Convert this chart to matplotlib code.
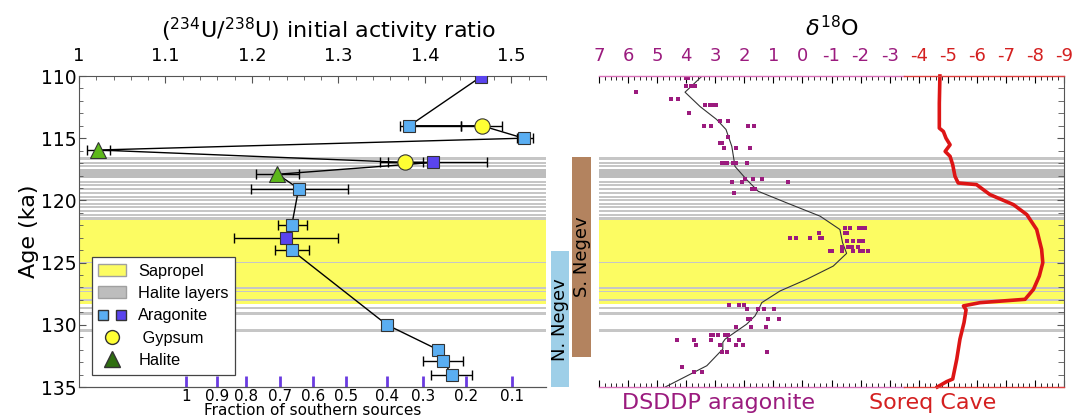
"""
Uranium activity ratio vs age (left) and d18O records (right)
with sapropel / halite layer bands and Negev source bars.
"""

import numpy as np
import pandas as pd
import matplotlib
matplotlib.use("Agg")
import matplotlib.pyplot as plt
from matplotlib.patches import Patch
from matplotlib.lines import Line2D
from matplotlib.legend_handler import HandlerTuple
from matplotlib.ticker import MultipleLocator, FuncFormatter

# ── data: left panel (234U/238U initial activity ratio) ─────────────────
ARAG_LIGHT_AGE   = [114.0, 115.0, 119.05, 122.0, 124.0, 130.0, 132.0, 132.9, 134.0]
ARAG_LIGHT_RATIO = [1.382, 1.514, 1.254, 1.246, 1.246, 1.356, 1.415, 1.421, 1.431]
ARAG_LIGHT_LO    = [1.371, 1.506, 1.199, 1.230, 1.227, 1.356, 1.415, 1.398, 1.4065]
ARAG_LIGHT_HI    = [1.442, 1.525, 1.311, 1.2635, 1.266, 1.356, 1.415, 1.4437, 1.455]

ARAG_DARK_AGE   = [110.05, 116.95, 123.0]
ARAG_DARK_RATIO = [1.465, 1.409, 1.239]
ARAG_DARK_LO    = [1.465, 1.357, 1.179]
ARAG_DARK_HI    = [1.465, 1.472, 1.299]

GYPSUM_AGE   = [114.0, 116.95]
GYPSUM_RATIO = [1.466, 1.3775]
GYPSUM_LO    = [1.442, 1.348]
GYPSUM_HI    = [1.489, 1.398]

HALITE_AGE   = [115.95, 117.9]
HALITE_RATIO = [1.022, 1.2295]
HALITE_LO    = [1.009, 1.2047]
HALITE_HI    = [1.036, 1.2544]

FRACTION_POS    = [1.124, 1.160, 1.193, 1.232, 1.271, 1.309, 1.356, 1.398, 1.448, 1.501]
FRACTION_LABELS = ["1", "0.9", "0.8", "0.7", "0.6", "0.5", "0.4", "0.3", "0.2", "0.1"]

# ── data: layers ────────────────────────────────────────────────────────
SAPROPEL = (121.55, 128.3)
HALITE_TOP = [116.52, 116.89, 117.13, 117.48, 118.42, 118.68, 119.0, 119.3, 119.62,
              119.88, 120.2, 120.47, 120.74, 121.06, 121.33, 124.98, 126.95, 127.25,
              127.95, 128.55, 128.95, 130.35]
HALITE_BOT = [116.73, 117.05, 117.32, 118.23, 118.6, 118.87, 119.19, 119.45, 119.8,
              120.07, 120.34, 120.63, 120.9, 121.22, 121.54, 125.05, 127.1, 127.4,
              128.1, 128.75, 129.2, 130.6]

NEGEV_NAMES = ["N. Negev", "S. Negev"]
NEGEV_START = [124.1, 116.5]
NEGEV_END   = [135.0, 132.6]

# ── data: right panel (d18O) ────────────────────────────────────────────
DSDDP_AGE = ([110.16] * 2 + [110.8] * 3 + [111.3] + [111.87] * 2 + [112.35] * 4 + [112.99]
             + [113.58] * 2 + [114.0] * 4 + [114.91] + [115.39] * 2 + [115.8] * 3
             + [117.0] * 6 + [118.3] * 3 + [118.55] * 3 + [119.08] * 2 + [119.38]
             + [122.23] * 5 + [122.66] * 3 + [123.06] * 5 + [123.28] * 4 + [123.74] * 4
             + [124.1] * 7 + [128.43] * 3 + [128.69] * 4 + [129.5] * 4 + [130.17] * 3
             + [130.83] * 5 + [131.23] * 5 + [131.63] * 4 + [132.2] * 3 + [133.4]
             + [133.83] * 2)
DSDDP_D18O = ([4.0, 3.95] + [4.0, 3.85, 3.70] + [5.73] + [4.51, 4.29] + [3.34, 3.17, 3.03, 2.96]
              + [3.91] + [2.84, 2.55] + [3.38, 3.15, 1.88, 1.67] + [2.57] + [2.84, 2.78]
              + [2.69, 2.30, 1.80] + [2.78, 2.66, 2.58, 2.40, 2.29, 1.90] + [1.97, 1.69, 1.40]
              + [2.42, 2.09, 0.49] + [1.74, 1.63] + [2.35]
              + [-1.48, -1.64, -1.95, -2.04, -2.15] + [-0.56, -1.48, -1.55]
              + [0.43, 0.23, -0.26, -0.61, -0.66] + [-1.52, -1.75, -1.95, -2.10]
              + [-1.35, -1.58, -1.70, -1.92] + [-0.95, -1.03, -1.37, -1.73, -1.98, -2.10, -2.27]
              + [2.52, 2.18, 2.0] + [1.9, 1.52, 1.31, 0.97] + [1.86, 1.80, 1.17, 0.80]
              + [2.29, 1.78, 1.24] + [3.15, 3.07, 2.90, 2.66, 2.55]
              + [4.32, 3.72, 3.15, 2.54, 2.17] + [3.67, 2.84, 2.29, 2.06]
              + [2.78, 2.61, 1.23] + [4.15] + [3.72, 3.47])

SMOOTH_AGE  = [110.0, 111.3, 112.46, 113.5, 114.3, 115.66, 117.27, 118.33, 119.27, 120.2,
               121.27, 122.34, 123.4, 124.26, 125.28, 126.35, 127.28, 128.22, 128.62,
               129.28, 129.95, 131.15, 131.42, 131.95, 133.29, 135.0]
SMOOTH_D18O = [3.45, 4.04, 3.52, 2.95, 2.63, 2.43, 2.32, 1.92, 1.52, 0.54,
               -0.61, -1.29, -1.38, -1.52, -1.06, -0.14, 0.77, 1.40, 1.48,
               1.63, 1.92, 2.66, 2.74, 2.74, 3.29, 4.72]

SOREQ_AGE  = [110.0, 112.19, 114.19, 114.46, 115.0, 115.53, 116.06, 116.46, 117.13, 118.07,
              118.6, 118.73, 119.53, 120.34, 121.14, 122.34, 123.94, 125.01, 126.08,
              127.15, 127.95, 128.22, 128.48, 128.8, 129.82, 131.15, 132.76, 134.36,
              134.57, 135.0]
SOREQ_D18O = [-4.73, -4.71, -4.71, -4.85, -4.94, -5.08, -4.91, -5.08, -5.17, -5.25,
              -5.36, -5.99, -6.45, -7.26, -7.72, -8.06, -8.23, -8.27, -8.15,
              -7.95, -7.66, -6.11, -5.54, -5.63, -5.56, -5.42, -5.31, -5.17,
              -4.96, -4.64]

# ── style ───────────────────────────────────────────────────────────────
plt.rcParams.update({"font.family": "DejaVu Sans"})

YELLOW   = "#FCFC62"
GRAY     = "#C6C6C6"
LBLUE    = "#5AAEF2"
DBLUE    = "#5A44EE"
GYP      = "#FFFF33"
HAL      = "#5DB81A"
PURPLE   = "#9B1B7E"
PINK     = "#D870B8"
RED      = "#D42020"
FRACCOL  = "#6A3BE0"
SPINE    = "#555555"

fig = plt.figure(figsize=(10.75, 4.19), dpi=100)
W, H = 1075, 419
ax  = fig.add_axes([79 / W, (H - 387) / H, 467 / W, 311 / H])
axn = fig.add_axes([549 / W, (H - 387) / H, 45 / W, 311 / H])
ax2 = fig.add_axes([599 / W, (H - 387) / H, 465 / W, 311 / H])


def draw_layers(a):
    a.axhspan(*SAPROPEL, color=YELLOW, lw=0, zorder=0)
    for t, b in zip(HALITE_TOP, HALITE_BOT):
        c = "#BDBDBD" if b - t > 0.5 else GRAY
        a.axhspan(t, b, color=c, lw=0, zorder=0.5)


# ── left panel ──────────────────────────────────────────────────────────
draw_layers(ax)

pts = pd.DataFrame({
    "age": ARAG_LIGHT_AGE + ARAG_DARK_AGE + GYPSUM_AGE + HALITE_AGE,
    "ratio": ARAG_LIGHT_RATIO + ARAG_DARK_RATIO + GYPSUM_RATIO + HALITE_RATIO,
}).sort_values(["age", "ratio"])
ax.plot(pts["ratio"], pts["age"], color="black", lw=1.0, zorder=2)

series = [
    (ARAG_LIGHT_AGE, ARAG_LIGHT_RATIO, ARAG_LIGHT_LO, ARAG_LIGHT_HI, "s", LBLUE, 9),
    (ARAG_DARK_AGE, ARAG_DARK_RATIO, ARAG_DARK_LO, ARAG_DARK_HI, "s", DBLUE, 9),
    (GYPSUM_AGE, GYPSUM_RATIO, GYPSUM_LO, GYPSUM_HI, "o", GYP, 11),
    (HALITE_AGE, HALITE_RATIO, HALITE_LO, HALITE_HI, "^", HAL, 11),
]
for age, r, lo, hi, mk, col, ms in series:
    r = np.array(r)
    xerr = [r - np.array(lo), np.array(hi) - r]
    ax.errorbar(r, age, xerr=xerr, fmt="none", ecolor="black", elinewidth=1.0,
                capsize=3.5, capthick=1.0, zorder=3)
    ax.plot(r, age, ls="none", marker=mk, ms=ms, mfc=col, mec="#333333",
            mew=0.8, zorder=4)

ax.set_xlim(1.0, 1.54)
ax.set_ylim(135, 110)
ax.xaxis.tick_top()
ax.xaxis.set_major_locator(MultipleLocator(0.1))
ax.xaxis.set_minor_locator(MultipleLocator(0.02))
ax.xaxis.set_major_formatter(FuncFormatter(lambda v, p: f"{v:g}"))
ax.yaxis.set_major_locator(MultipleLocator(5))
ax.yaxis.set_minor_locator(MultipleLocator(1))
ax.tick_params(axis="x", which="both", direction="in", colors=SPINE, labelcolor="black",
               labelsize=13, pad=8)
ax.tick_params(axis="x", which="major", length=5)
ax.tick_params(axis="x", which="minor", length=3)
ax.tick_params(axis="y", which="both", direction="in", colors=SPINE, labelcolor="black",
               labelsize=13.5, pad=2)
ax.tick_params(axis="y", which="major", length=5)
ax.tick_params(axis="y", which="minor", length=3)
ax.spines["right"].set_visible(False)
for sp in ("left", "top", "bottom"):
    ax.spines[sp].set_color(SPINE)
    ax.spines[sp].set_linewidth(0.8)
ax.set_ylabel("Age (ka)", fontsize=16)
ax.yaxis.set_label_coords(-0.085, 0.5)

sec = ax.secondary_xaxis("bottom")
sec.set_xticks(FRACTION_POS, labels=FRACTION_LABELS)
sec.tick_params(direction="in", length=8, width=2, color=FRACCOL, labelsize=11, pad=1.5)
sec.spines["bottom"].set_color(SPINE)
sec.set_xlabel("Fraction of southern sources", fontsize=11, labelpad=-1)

handles = [
    Patch(facecolor=YELLOW, edgecolor="#A0A0A0"),
    Patch(facecolor="#BDBDBD", edgecolor="#A0A0A0"),
    (Line2D([], [], ls="none", marker="s", ms=7.5, mfc=LBLUE, mec="#333333"),
     Line2D([], [], ls="none", marker="s", ms=7.5, mfc=DBLUE, mec="#333333")),
    Line2D([], [], ls="none", marker="o", ms=10, mfc=GYP, mec="#333333"),
    Line2D([], [], ls="none", marker="^", ms=11, mfc="#2F6E10", mec="#333333"),
]
labels = ["Sapropel", "Halite layers", "Aragonite", " Gypsum", "Halite"]
leg = ax.legend(handles, labels, loc="lower left", bbox_to_anchor=(0.027, 0.04),
                prop={"family": "Liberation Sans", "size": 11.8},
                frameon=True, fancybox=False, framealpha=1,
                edgecolor="#444444", handlelength=1.7, handletextpad=0.75,
                labelspacing=0.45, borderpad=0.4, borderaxespad=0,
                handler_map={tuple: HandlerTuple(ndivide=None, pad=0.4)})
leg.get_frame().set_linewidth(0.9)
leg.set_zorder(5)

# ── Negev bars ──────────────────────────────────────────────────────────
start = np.array(NEGEV_START)
end = np.array(NEGEV_END)
axn.bar(range(len(NEGEV_NAMES)), end - start, bottom=start, width=0.86,
        color=["#9ECFE8", "#B3835F"], lw=0)
for i, name in enumerate(NEGEV_NAMES):
    axn.text(i, (NEGEV_START[i] + NEGEV_END[i]) / 2, name, rotation=90,
             ha="center", va="center", fontsize=13)
axn.set_xlim(-0.51, 1.58)
axn.set_ylim(135, 110)
axn.axis("off")

# ── right panel ─────────────────────────────────────────────────────────
draw_layers(ax2)
ax2.plot(SOREQ_D18O, SOREQ_AGE, color="#DD1515", lw=2.6, zorder=3, clip_on=False)
ax2.plot(SMOOTH_D18O, SMOOTH_AGE, color="#333333", lw=0.8, zorder=3)
ax2.scatter(DSDDP_D18O, DSDDP_AGE, marker="s", s=12, color=PURPLE, lw=0, zorder=4)

ax2.set_xlim(7, -9)
ax2.set_ylim(135, 110)
ax2.xaxis.set_major_locator(MultipleLocator(1))
ax2.xaxis.set_minor_locator(MultipleLocator(0.2))
ax2.yaxis.set_major_locator(MultipleLocator(5))
ax2.yaxis.set_minor_locator(MultipleLocator(1))
ax2.tick_params(axis="x", which="both", direction="in", top=True, bottom=True,
                labeltop=True, labelbottom=False, labelsize=13, pad=8)
ax2.tick_params(axis="x", which="major", length=5)
ax2.tick_params(axis="x", which="minor", length=3)
ax2.tick_params(axis="y", which="both", direction="in", left=False, right=True,
                labelleft=False, labelright=False, colors=SPINE)
ax2.tick_params(axis="y", which="major", length=5)
ax2.tick_params(axis="y", which="minor", length=4)
ax2.xaxis.set_major_formatter(FuncFormatter(lambda v, p: f"{v:g}".replace("-0", "0")))

SPLIT = -3.5
fig.canvas.draw()
for tk in ax2.xaxis.get_major_ticks() + ax2.xaxis.get_minor_ticks():
    v = tk.get_loc()
    c = PINK if v > SPLIT else "#E04040"
    tk.tick1line.set_color(c)
    tk.tick2line.set_color(c)
    tk.label2.set_color(PURPLE if v > SPLIT else RED)

for sp in ("left", "top", "bottom"):
    ax2.spines[sp].set_visible(False)
ax2.spines["right"].set_color(SPINE)
ax2.spines["right"].set_linewidth(0.8)
frac = (7 - SPLIT) / 16
for yy in (110, 135):
    ax2.axhline(yy, xmin=0, xmax=frac, color=PINK, lw=1.0, clip_on=False, zorder=5)
    ax2.axhline(yy, xmin=frac, xmax=1, color="#E04040", lw=1.0, clip_on=False, zorder=5)

# ── titles and labels ───────────────────────────────────────────────────
fig.text(328 / W, 1 - 30 / H, r"($^{234}$U/$^{238}$U) initial activity ratio",
         ha="center", va="center", fontsize=16)
fig.text(832 / W, 1 - 28 / H, r"$\delta^{18}$O", ha="center", va="center", fontsize=16)
fig.text(718 / W, 1 - 403 / H, "DSDDP aragonite", ha="center", va="center",
         fontsize=16, color=PURPLE)
fig.text(933 / W, 1 - 403 / H, "Soreq Cave", ha="center", va="center",
         fontsize=16, color=RED)

fig.savefig("out.png", dpi=100)
